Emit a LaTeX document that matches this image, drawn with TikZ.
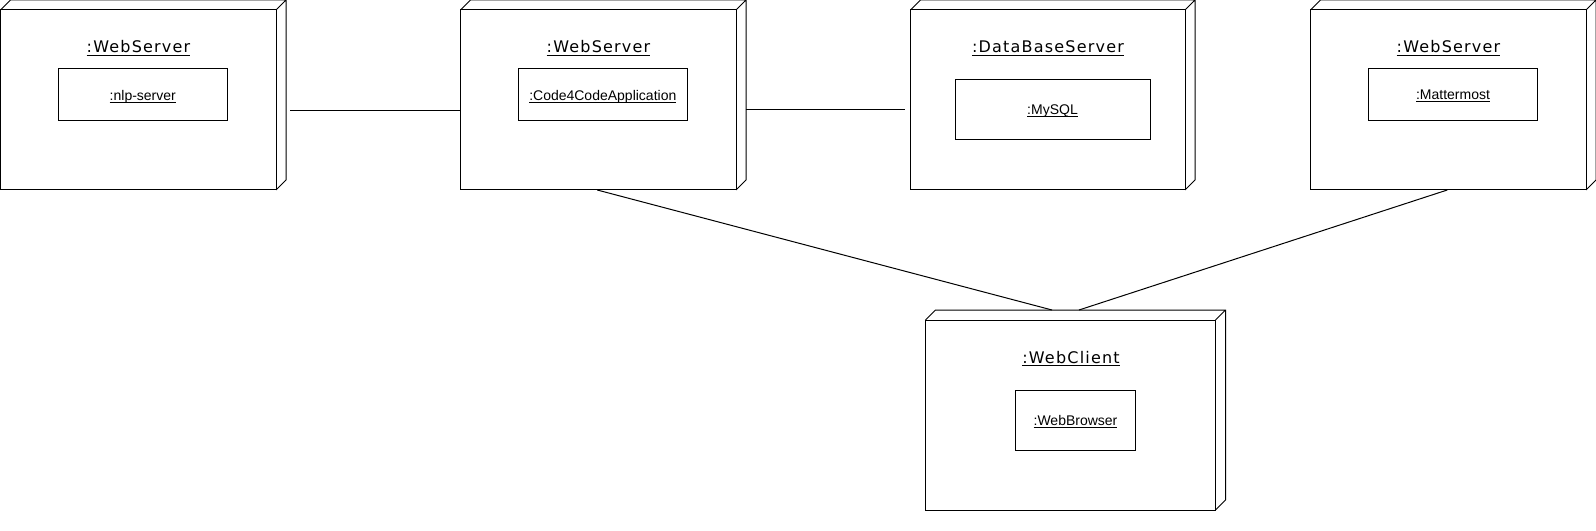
\documentclass[tikz,border=0pt]{standalone}
\usepackage{fontspec}
\setmainfont{Liberation Sans}
\newfontfamily\titlefont[LetterSpace=7.5]{DejaVu Sans}
\newcommand\ulx[1]{\underline{\raisebox{0pt}[\height][0pt]{#1}}}
\begin{document}
\begin{tikzpicture}[x=0.75pt,y=-0.75pt,line width=0.75pt,
  nodebox/.style={draw, anchor=north west, inner sep=0pt, outer sep=0pt},
  compbox/.style={draw, inner sep=0pt, outer sep=0pt, text depth=0pt, font=\fontsize{10.5pt}{12pt}\selectfont},
  titletext/.style={inner sep=0pt, anchor=base, font=\titlefont\fontsize{12pt}{14pt}\selectfont}]
\useasboundingbox (0,0) rectangle (1596,531);
\newcommand\depthfaces[1]{%
  \draw (#1.north west) -- ++(10,-10) -| ([shift={(10,-10)}]#1.south east) -- (#1.south east)
        (#1.north east) -- ++(10,-10);}
% nodes
\node[nodebox, minimum width=0.75pt*275.5, minimum height=0.75pt*180] (n1) at (0.5,10) {};
\node[nodebox, minimum width=0.75pt*275.5, minimum height=0.75pt*180] (n2) at (460.5,10) {};
\node[nodebox, minimum width=0.75pt*274.5, minimum height=0.75pt*180] (n3) at (910.5,10) {};
\node[nodebox, minimum width=0.75pt*275.5, minimum height=0.75pt*180] (n4) at (1310.5,10) {};
\node[nodebox, minimum width=0.75pt*290, minimum height=0.75pt*190] (n5) at (925.5,320) {};
\depthfaces{n1}\depthfaces{n2}\depthfaces{n3}\depthfaces{n4}\depthfaces{n5}
% titles
\node[titletext] (t1) at (138.5,53) {\ulx{:WebServer}};
\node[titletext] (t2) at (598.5,53) {\ulx{:WebServer}};
\node[titletext] (t3) at (1048,53) {\ulx{:DataBaseServer}};
\node[titletext] (t4) at (1448.5,53) {\ulx{:WebServer}};
\node[titletext] (t5) at (1071,363) {\ulx{:WebClient}};
% components
\node[compbox, minimum width=0.75pt*169, minimum height=0.75pt*52] (c1) at (142.8,95) {\ulx{:nlp-server}};
\node[compbox, minimum width=0.75pt*169, minimum height=0.75pt*52] (c2) at (602.8,95) {\ulx{:Code4CodeApplication}};
\node[compbox, minimum width=0.75pt*195, minimum height=0.75pt*60] (c3) at (1052.5,110) {\ulx{:MySQL}};
\node[compbox, minimum width=0.75pt*169, minimum height=0.75pt*52] (c4) at (1453,95) {\ulx{:Mattermost}};
\node[compbox, minimum width=0.75pt*120.4, minimum height=0.75pt*60] (c5) at (1075.5,420) {\ulx{:WebBrowser}};
% connector ends
\coordinate (a1) at (290,110.5);
\coordinate (a2) at (745.5,110);
\coordinate (b2) at (905,110);
\coordinate (e3) at (1052,310);
\coordinate (e4) at (1079,310);
% connectors
\draw (a1) -- (a1 -| n2.west);
\draw (a2) -- (b2);
\draw ([xshift=-0.75pt]n2.south) -- (e3);
\draw ([xshift=-0.75pt]n4.south) -- (e4);
\end{tikzpicture}
\end{document}
